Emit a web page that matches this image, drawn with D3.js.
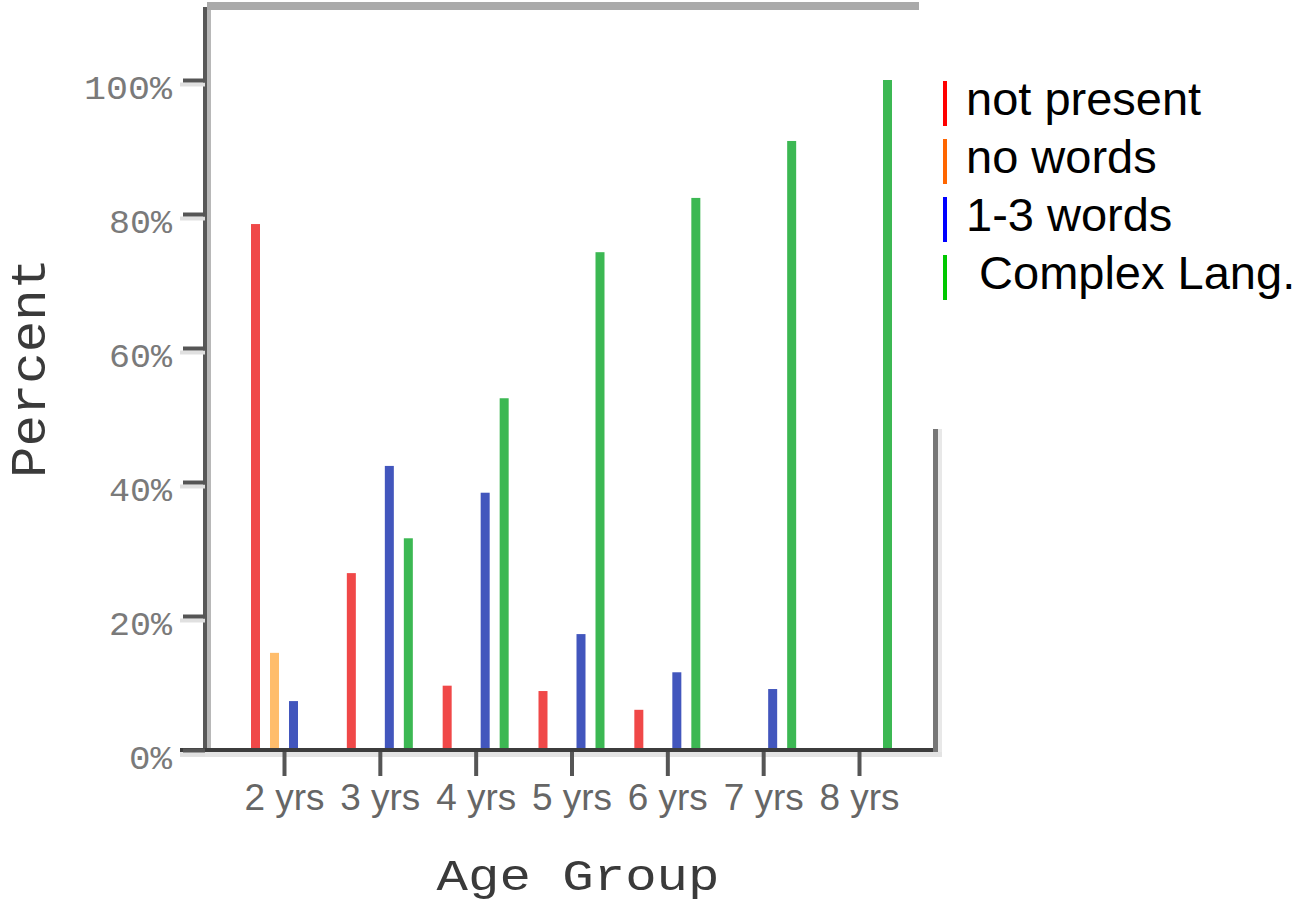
<!DOCTYPE html>
<html>
<head>
<meta charset="utf-8">
<script src="https://cdn.jsdelivr.net/npm/d3@7"></script>
<style>
  html, body { margin: 0; padding: 0; background: #fff; }
  svg { display: block; }
</style>
</head>
<body>
<svg id="chart" width="1299" height="906"></svg>
<script>
// ---- data ----
const categories = ["2 yrs", "3 yrs", "4 yrs", "5 yrs", "6 yrs", "7 yrs", "8 yrs"];
const seriesNames = ["not present", "no words", "1-3 words", " Complex Lang."];
const notPresent  = [78.5, 26.4, 9.6, 8.8, 6.0, 0, 0];
const noWords     = [14.5, 0, 0, 0, 0, 0, 0];
const oneToThree  = [7.3, 42.4, 38.4, 17.3, 11.6, 9.1, 0];
const complexLang = [0, 31.6, 52.5, 74.3, 82.4, 90.9, 100];
const yTickValues = [0, 20, 40, 60, 80, 100];
const barColors    = ["#f04848", "#ffbd6c", "#4256bd", "#3cb853"];
const legendColors = ["#ff0000", "#ff6600", "#0000ff", "#00c800"];

const seriesValues = [notPresent, noWords, oneToThree, complexLang];

const svg = d3.select("#chart");

// scales
const x = d3.scalePoint().domain(categories).range([284, 859]);
const sub = d3.scaleBand().domain(seriesNames).range([-38, 38]);
const y = d3.scaleLinear().domain([0, 100]).range([750, 80]);

// bars
const barData = [];
seriesValues.forEach((vals, si) => {
  vals.forEach((v, ci) => {
    if (v > 0) barData.push({ cat: categories[ci], s: seriesNames[si], si, v });
  });
});
const barW = 9;
svg.append("g").selectAll("rect")
  .data(barData)
  .join("rect")
  .attr("x", d => x(d.cat) + sub(d.s) + (sub.bandwidth() - barW) / 2)
  .attr("y", d => y(d.v))
  .attr("width", barW)
  .attr("height", d => y(0) - y(d.v))
  .attr("fill", d => barColors[d.si]);

// frame pieces
svg.append("rect").attr("x", 207).attr("y", 2).attr("width", 712).attr("height", 8).attr("fill", "#aaaaaa");
svg.append("rect").attr("x", 207).attr("y", 10).attr("width", 4).attr("height", 742).attr("fill", "#b8b8b8");
svg.append("rect").attr("x", 203).attr("y", 7).attr("width", 4).attr("height", 745).attr("fill", "#585858");
svg.append("rect").attr("x", 180).attr("y", 752).attr("width", 762).attr("height", 5).attr("fill", "#e3e3e3");
svg.append("rect").attr("x", 180).attr("y", 748).attr("width", 758).attr("height", 4).attr("fill", "#3c3c3c");
svg.append("rect").attr("x", 938).attr("y", 429).attr("width", 4).attr("height", 323).attr("fill", "#e8e8e8");
svg.append("rect").attr("x", 933).attr("y", 429).attr("width", 5).attr("height", 323).attr("fill", "#777777");

// y axis ticks + labels
const yAxis = d3.axisLeft(y).tickValues(yTickValues).tickSizeInner(22).tickSizeOuter(0)
  .tickFormat(d => d + "%");
const gy = svg.append("g").attr("transform", "translate(205,0)").call(yAxis);
gy.select(".domain").remove();
gy.selectAll(".tick line").attr("stroke", "#555").attr("stroke-width", 4);
gy.selectAll(".tick").insert("line", ":first-child")
  .attr("x1", -25).attr("x2", 0).attr("y1", 4).attr("y2", 4)
  .attr("stroke", "#e0e0e0").attr("stroke-width", 4);
gy.selectAll(".tick text")
  .attr("x", -33).attr("y", 18).attr("dy", null)
  .attr("font-family", "'Liberation Mono', monospace")
  .attr("font-size", 34)
  .attr("fill", "#7a7a7a")
  .attr("textLength", function() { const n = this.textContent.length; return n === 4 ? 88 : n === 3 ? 63 : 43; })
  .attr("lengthAdjust", "spacingAndGlyphs");

// x axis ticks + labels
const xAxis = d3.axisBottom(x).tickSizeInner(24).tickSizeOuter(0);
const gx = svg.append("g").attr("transform", "translate(0,752)").call(xAxis);
gx.select(".domain").remove();
gx.selectAll(".tick line").attr("stroke", "#555").attr("stroke-width", 4);
gx.selectAll(".tick text")
  .attr("y", 58).attr("dy", null)
  .attr("font-family", "'Liberation Sans', Arial, sans-serif")
  .attr("font-size", 37)
  .attr("fill", "#666")
  .attr("textLength", 80).attr("lengthAdjust", "spacingAndGlyphs");

// axis titles
svg.append("text")
  .attr("x", 578).attr("y", 890)
  .attr("text-anchor", "middle")
  .attr("font-family", "'Liberation Mono', monospace")
  .attr("font-size", 44)
  .attr("fill", "#3a3a3a")
  .attr("textLength", 283).attr("lengthAdjust", "spacingAndGlyphs")
  .text("Age Group");

svg.append("text")
  .attr("transform", "translate(45,368) rotate(-90)")
  .attr("text-anchor", "middle")
  .attr("font-family", "'Liberation Mono', monospace")
  .attr("font-size", 50)
  .attr("fill", "#3a3a3a")
  .attr("textLength", 220).attr("lengthAdjust", "spacingAndGlyphs")
  .text("Percent");

// legend
const legend = svg.append("g").selectAll("g")
  .data(seriesNames)
  .join("g")
  .attr("transform", (d, i) => `translate(943,${81 + i * 58})`);
legend.append("rect").attr("x", 0).attr("y", 0).attr("width", 4).attr("height", 45)
  .attr("fill", (d, i) => legendColors[i]);
legend.append("text")
  .attr("x", 23).attr("y", 34)
  .attr("font-family", "'Liberation Sans', Arial, sans-serif")
  .attr("font-size", 47)
  .attr("fill", "#000")
  .attr("xml:space", "preserve")
  .style("white-space", "pre")
  .text(d => d);
</script>
</body>
</html>
